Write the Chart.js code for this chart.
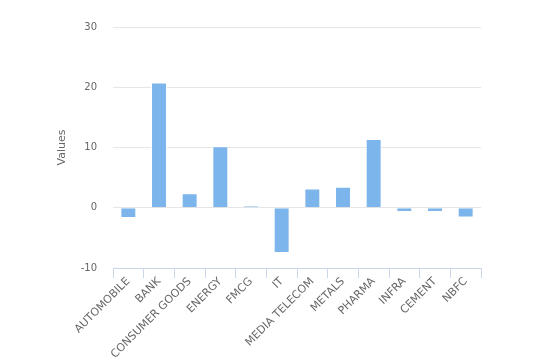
<!DOCTYPE html>
<html>
<head>
<meta charset="utf-8">
<script src="https://cdn.jsdelivr.net/npm/chart.js@4/dist/chart.umd.min.js"></script>
<style>
  html, body { margin: 0; padding: 0; background: #fff; }
  #wrap { width: 538px; height: 361px; }
</style>
</head>
<body>
<div id="wrap"><canvas id="sectorChart"></canvas></div>
<script>
// sectors and their values
const sectors = ['AUTOMOBILE', 'BANK', 'CONSUMER GOODS', 'ENERGY', 'FMCG', 'IT',
  'MEDIA TELECOM', 'METALS', 'PHARMA', 'INFRA', 'CEMENT', 'NBFC'];
const values = [-1.7, 20.8, 2.4, 10.2, 0.35, -7.5, 3.2, 3.5, 11.4, -0.7, -0.7, -1.6];
const yTicks = [-10, 0, 10, 20, 30];

const fontFamily = '"DejaVu Sans", sans-serif';

const ctx = document.getElementById('sectorChart');

new Chart(ctx, {
  type: 'bar',
  data: {
    labels: sectors,
    datasets: [{
      label: 'Values',
      data: values,
      backgroundColor: '#7cb5ec',
      borderColor: '#ffffff',
      borderWidth: 1,
      categoryPercentage: 1,
      barPercentage: 0.52
    }]
  },
  options: {
    responsive: true,
    maintainAspectRatio: false,
    animation: false,
    layout: {
      padding: { left: 52, right: 57, top: 27, bottom: 0 }
    },
    plugins: {
      legend: { display: false },
      tooltip: { enabled: false }
    },
    scales: {
      x: {
        afterFit(scale) { scale.height = 93; },
        grid: {
          offset: true,
          drawOnChartArea: false,
          tickLength: 10,
          color: '#ccd6eb'
        },
        border: { color: '#ccd6eb' },
        ticks: {
          minRotation: 45,
          maxRotation: 45,
          autoSkip: false,
          padding: -3,
          color: '#666666',
          font: { family: fontFamily, size: 11 }
        }
      },
      y: {
        min: yTicks[0],
        max: yTicks[yTicks.length - 1],
        afterFit(scale) { scale.width = 61; },
        afterBuildTicks(scale) {
          scale.ticks = yTicks.map(v => ({ value: v }));
        },
        grid: {
          color: '#e6e6e6',
          drawTicks: false
        },
        border: { display: false },
        ticks: {
          padding: 16,
          color: '#666666',
          font: { family: fontFamily, size: 10 }
        },
        title: {
          display: true,
          text: 'Values',
          color: '#666666',
          padding: 4,
          font: { family: fontFamily, size: 11 }
        }
      }
    }
  }
});
</script>
</body>
</html>
